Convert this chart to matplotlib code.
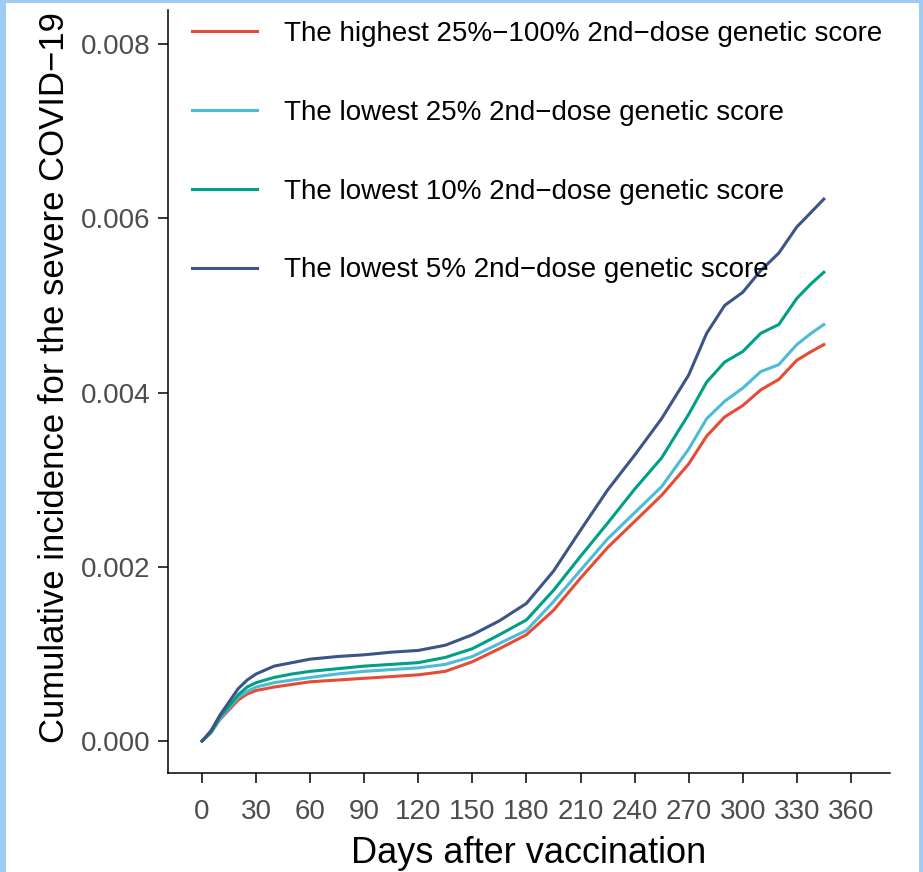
import numpy as np
import matplotlib
matplotlib.use("Agg")
import matplotlib.pyplot as plt
from matplotlib.patches import Rectangle

# Дни после вакцинации
days = [0, 5, 10, 15, 20, 25, 30, 40, 50, 60, 75, 90, 105, 120, 135, 150, 165,
        180, 195, 210, 225, 240, 255, 270, 280, 290, 300, 310, 320, 330, 338, 345]

# Кумулятивная заболеваемость по группам
highest_25_100 = [0, 0.00010, 0.00025, 0.00036, 0.00047, 0.00054, 0.00058, 0.00062,
                  0.00065, 0.00068, 0.00070, 0.00072, 0.00074, 0.00076, 0.00080,
                  0.00091, 0.00106, 0.00122, 0.00150, 0.00187, 0.00222, 0.00252,
                  0.00282, 0.00318, 0.00350, 0.00372, 0.00385, 0.00403, 0.00415,
                  0.00437, 0.00447, 0.00455]
lowest_25 = [0, 0.00010, 0.00026, 0.00038, 0.00050, 0.00057, 0.00062, 0.00067,
             0.00070, 0.00073, 0.00077, 0.00080, 0.00082, 0.00084, 0.00088,
             0.00097, 0.00112, 0.00127, 0.00160, 0.00196, 0.00232, 0.00262,
             0.00292, 0.00335, 0.00370, 0.00390, 0.00405, 0.00424, 0.00432,
             0.00455, 0.00468, 0.00478]
lowest_10 = [0, 0.00010, 0.00028, 0.00040, 0.00053, 0.00062, 0.00067, 0.00073,
             0.00077, 0.00080, 0.00083, 0.00086, 0.00088, 0.00090, 0.00096,
             0.00106, 0.00122, 0.00139, 0.00173, 0.00212, 0.00250, 0.00289,
             0.00325, 0.00375, 0.00412, 0.00435, 0.00447, 0.00468, 0.00478,
             0.00508, 0.00525, 0.00538]
lowest_5 = [0, 0.00012, 0.00030, 0.00045, 0.00060, 0.00070, 0.00077, 0.00086,
            0.00090, 0.00094, 0.00097, 0.00099, 0.00102, 0.00104, 0.00110,
            0.00122, 0.00138, 0.00158, 0.00195, 0.00242, 0.00288, 0.00328,
            0.00370, 0.00420, 0.00468, 0.00500, 0.00515, 0.00540, 0.00560,
            0.00590, 0.00607, 0.00622]

labels = ['The highest 25%\u2212100% 2nd\u2212dose genetic score',
          'The lowest 25% 2nd\u2212dose genetic score',
          'The lowest 10% 2nd\u2212dose genetic score',
          'The lowest 5% 2nd\u2212dose genetic score']
colors = ['#E64B35', '#4DBBD5', '#00A087', '#3C5488']
series = [highest_25_100, lowest_25, lowest_10, lowest_5]

x_ticks = list(range(0, 361, 30))
y_ticks = [0, 0.002, 0.004, 0.006, 0.008]

plt.rcParams['font.family'] = ['Liberation Sans', 'DejaVu Sans']

fig = plt.figure(figsize=(9.23, 8.72), dpi=100)
fig.patch.set_facecolor('#9FCCF2')
# Белая область внутри голубой рамки
fig.patches.append(Rectangle((6 / 923, 0), 913 / 923, 869 / 872,
                             transform=fig.transFigure, facecolor='white',
                             edgecolor='none', zorder=-5))

ax = fig.add_axes([0.182, 0.1135, 0.782, 0.875])
ax.set_zorder(5)
ax.set_facecolor('none')

for vals, lab, col in zip(series, labels, colors):
    ax.plot(days, vals, color=col, lw=2.2, label=lab)

ax.set_xlim(-18.9, 381.6)
ax.set_ylim(-0.000367, 0.00839)
ax.set_xticks(x_ticks)
ax.set_yticks(y_ticks)
ax.set_yticklabels(['%.3f' % v for v in y_ticks])

for s in ['top', 'right']:
    ax.spines[s].set_visible(False)
for s in ['left', 'bottom']:
    ax.spines[s].set_linewidth(1.1)
ax.tick_params(length=7.5, width=1.1, color='black', labelsize=20,
               labelcolor='#4D4D4D')
ax.tick_params(axis='x', pad=11)
ax.tick_params(axis='y', pad=5)

ax.set_xlabel('Days after vaccination', fontsize=26, labelpad=8)
ax.set_ylabel('Cumulative incidence for the severe COVID\u221219', fontsize=25)
ax.yaxis.set_label_coords(-0.135, 0.518)

ax.legend(loc='upper left', bbox_to_anchor=(0.018, 1.0), frameon=False,
          fontsize=20, handlelength=2.35, handletextpad=0.95, labelspacing=1.9,
          borderaxespad=0.0)

fig.savefig('out.png', dpi=100, facecolor=fig.get_facecolor())
